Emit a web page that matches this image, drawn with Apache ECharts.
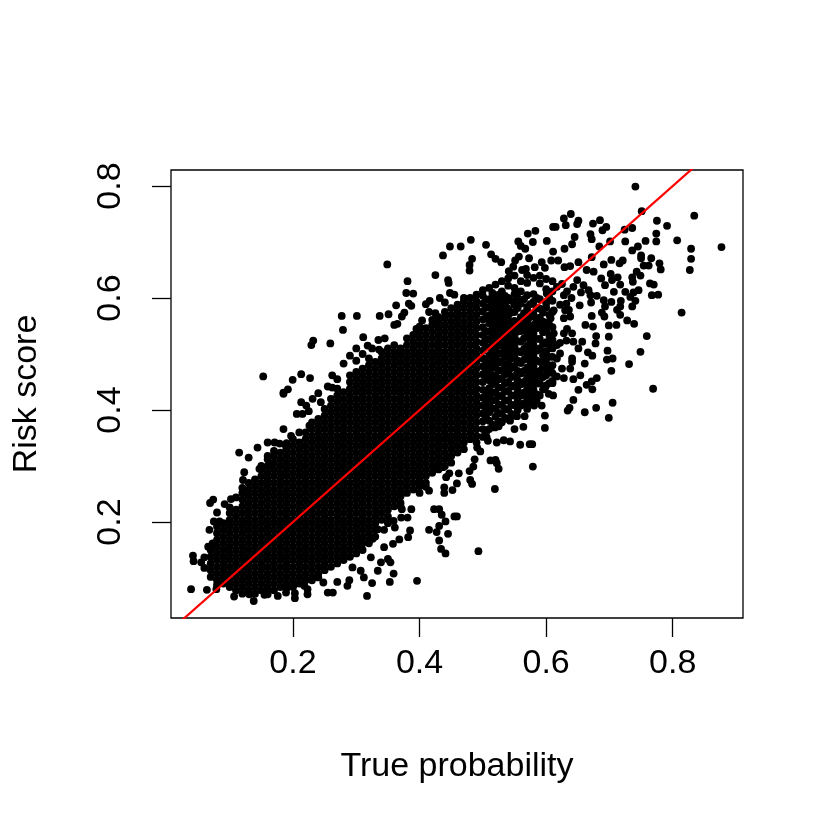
<!DOCTYPE html>
<html><head><meta charset="utf-8">
<style>html,body{margin:0;padding:0;background:#fff}#c{width:830px;height:830px}</style>
<script src="https://cdn.jsdelivr.net/npm/echarts@6/dist/echarts.min.js"></script>
</head><body><div id="c"></div>
<script>
const xTicks=[0.2,0.4,0.6,0.8];
const yTicks=[0.2,0.4,0.6,0.8];
const xTitle="True probability";
const yTitle="Risk score";
const refLineX=[0,1];
const refLineY=[0,1];
// individually readable points around the cloud
const upperLeftPoints=[[.153,.460],[.1995,.454],[.213,.464],[.227,.457],[.192,.437],[.185,.431],[.232,.524],[.229,.516],[.259,.519],[.279,.543],[.277,.568],[.301,.568],[.349,.660],[.337,.568],[.351,.571],[.311,.530],[.381,.630],[.379,.609],[.390,.608],[.363,.587],[.383,.590],[.387,.586],[.376,.574],[.372,.567],[.360,.552],[.365,.554],[.425,.641],[.437,.676],[.448,.692],[.445,.632],[.446,.627],[.448,.609],[.455,.606],[.416,.595],[.410,.589],[.432,.600],[.440,.592],[.300,.510],[.318,.515],[.325,.510],[.335,.525],[.345,.528],[.290,.497],[.300,.488],[.280,.483],[.262,.462],[.270,.455],[.262,.440],[.225,.398],[.240,.430],[.255,.442],[.310,.500],[.336,.508],[.395,.545],[.404,.560],[.415,.575],[.425,.573]];
const upperRightPoints=[[.741,.799],[.751,.755],[.834,.747],[.775,.738],[.791,.729],[.877,.691],[.807,.703],[.829,.688],[.829,.670],[.827,.650],[.814,.574],[.774,.715],[.774,.701],[.757,.702],[.745,.692],[.736,.685],[.725,.701],[.736,.725],[.724,.722],[.701,.701],[.684,.692],[.695,.727],[.689,.721],[.685,.739],[.674,.733],[.670,.714],[.672,.705],[.651,.738],[.639,.750],[.628,.742],[.631,.730],[.649,.732],[.645,.709],[.641,.696],[.629,.688],[.611,.727],[.615,.727],[.611,.683],[.601,.702],[.583,.720],[.571,.715],[.579,.700],[.556,.701],[.560,.693],[.567,.688],[.505,.695],[.481,.704],[.465,.692],[.513,.678],[.520,.670],[.529,.664],[.483,.670],[.479,.659],[.479,.649],[.573,.671],[.557,.674],[.551,.667],[.548,.656],[.541,.648],[.568,.652],[.562,.650],[.582,.655],[.593,.664],[.598,.654],[.608,.667],[.619,.667],[.629,.655],[.638,.657],[.651,.664],[.672,.673],[.691,.660],[.703,.668],[.716,.662],[.721,.667],[.750,.676],[.750,.671],[.766,.671],[.779,.662],[.781,.651],[.762,.658],[.754,.658],[.743,.647],[.749,.640],[.736,.637],[.737,.629],[.702,.643],[.713,.637],[.687,.635],[.675,.647],[.664,.650],[.704,.632],[.693,.623],[.717,.624],[.707,.611],[.764,.626],[.770,.624],[.746,.614],[.738,.610],[.767,.605],[.777,.606],[.725,.611],[.733,.602],[.741,.595],[.736,.585],[.718,.595],[.717,.585],[.703,.593],[.693,.585],[.680,.604],[.691,.596],[.670,.605],[.671,.592],[.653,.587],[.688,.574],[.692,.567],[.712,.579],[.717,.570],[.728,.560],[.739,.554],[.699,.551],[.711,.552],[.699,.531],[.759,.532],[.679,.532],[.678,.519],[.697,.506],[.749,.504],[.696,.490],[.705,.492],[.731,.482],[.703,.470],[.769,.438],[.661,.483],[.674,.549],[.662,.552],[.672,.568],[.657,.522],[.651,.510],[.666,.503],[.673,.497],[.680,.457],[.672,.451],[.664,.445],[.673,.437],[.651,.436],[.628,.457],[.643,.455],[.654,.462],[.638,.474],[.641,.492],[.607,.471],[.599,.489],[.628,.605],[.622,.588],[.636,.579],[.638,.567],[.628,.564],[.607,.564],[.596,.549],[.612,.537],[.628,.537],[.641,.537],[.643,.522],[.617,.516],[.622,.501],[.641,.486],[.617,.492],[.601,.471],[.617,.460],[.585,.460],[.643,.620],[.659,.623],[.667,.614],[.649,.632],[.617,.620],[.601,.608],[.625,.625],[.633,.612],[.640,.600],[.630,.578],[.612,.578],[.632,.524],[.625,.474],[.610,.448],[.598,.438],[.622,.520],[.633,.545],[.632,.590],[.655,.610]];
const lowerLeftPoints=[[.039,.080],[.064,.079],[.042,.140],[.043,.130],[.115,.324],[.130,.315],[.185,.366],[.185,.429],[.074,.240],[.069,.234],[.092,.232],[.080,.217],[.075,.201],[.084,.201],[.068,.186],[.066,.156],[.073,.162],[.060,.137],[.055,.128],[.060,.118],[.123,.289],[.121,.275],[.144,.333],[.160,.342],[.171,.342],[.179,.340],[.189,.335],[.197,.354],[.210,.360],[.226,.372],[.206,.393],[.215,.393],[.213,.414],[.221,.408],[.231,.420],[.244,.414],[.160,.318],[.147,.295],[.163,.301],[.102,.241],[.110,.244],[.079,.080],[.100,.089],[.107,.067],[.131,.071],[.138,.059],[.155,.070],[.160,.071],[.176,.068],[.189,.074],[.203,.073],[.203,.064],[.202,.089],[.223,.080],[.223,.071],[.218,.086],[.255,.074],[.263,.074],[.270,.093],[.248,.092],[.286,.086],[.289,.096],[.317,.068],[.325,.091],[.312,.101],[.334,.113],[.353,.093],[.359,.108],[.396,.095],[.350,.134],[.354,.128],[.339,.128],[.323,.137],[.344,.155],[.358,.161],[.368,.169],[.382,.173],[.385,.185],[.326,.170],[.334,.187],[.344,.186],[.361,.190],[.359,.202],[.371,.208],[.381,.208],[.372,.223],[.387,.223],[.415,.186],[.427,.182],[.431,.167],[.434,.152],[.441,.144],[.445,.179],[.431,.193],[.441,.201],[.423,.223],[.431,.223],[.435,.213],[.455,.210],[.415,.256],[.439,.262],[.439,.252],[.452,.257],[.442,.280],[.447,.287],[.429,.298],[.437,.298],[.444,.316],[.447,.351],[.402,.268],[.302,.173],[.307,.158],[.294,.119],[.307,.113]];
const lowerRightPoints=[[.705,.413],[.679,.404],[.699,.386],[.661,.396],[.643,.418],[.637,.404],[.634,.399],[.611,.426],[.604,.429],[.598,.390],[.598,.368],[.593,.408],[.581,.408],[.585,.417],[.566,.389],[.554,.389],[.564,.370],[.550,.366],[.543,.381],[.525,.371],[.519,.369],[.506,.351],[.508,.345],[.522,.342],[.533,.346],[.543,.344],[.559,.338],[.574,.339],[.578,.339],[.579,.299],[.512,.310],[.520,.311],[.525,.295],[.522,.305],[.496,.326],[.491,.333],[.487,.312],[.485,.299],[.479,.291],[.462,.287],[.459,.269],[.480,.275],[.483,.268],[.519,.259],[.459,.210],[.493,.148]];
// overplotted core of the cloud, estimated column by column
const coreX=[.07,.08,.09,.10,.11,.12,.13,.14,.15,.16,.17,.18,.19,.20,.21,.22,.23,.24,.25,.26,.27,.28,.29,.30,.31,.32,.33,.34,.35,.36,.37,.38,.39,.40,.41,.42,.43,.44,.45,.46,.47,.48,.49,.50,.51,.52,.53,.54,.55,.56,.57,.58,.59,.60,.61,.505,.515,.525,.535,.545,.555,.565,.575,.585,.595,.605];
const coreY=[
[.102,.114,.126,.138,.150],
[.088,.096,.108,.120,.132,.144,.156,.168,.180,.192],
[.090,.102,.114,.126,.138,.150,.162,.174,.186,.198],
[.084,.096,.108,.120,.132,.144,.156,.168,.180,.192,.204,.216,.226],
[.078,.090,.102,.114,.126,.138,.150,.162,.174,.186,.198,.210,.222],
[.072,.084,.096,.108,.120,.132,.144,.156,.168,.180,.192,.204,.216,.228,.240,.252,.261],
[.078,.090,.102,.114,.126,.138,.150,.162,.174,.186,.198,.210,.222,.234,.246,.258,.270],
[.072,.084,.096,.108,.120,.132,.144,.156,.168,.180,.192,.204,.216,.228,.240,.252,.264,.276],
[.078,.090,.102,.114,.126,.138,.150,.162,.174,.186,.198,.210,.222,.234,.246,.258,.270,.282,.294,.300],
[.076,.084,.096,.108,.120,.132,.144,.156,.168,.180,.192,.204,.216,.228,.240,.252,.264,.276,.288,.300,.312],
[.078,.090,.102,.114,.126,.138,.150,.162,.174,.186,.198,.210,.222,.234,.246,.258,.270,.282,.294,.306,.318,.327],
[.084,.096,.108,.120,.132,.144,.156,.168,.180,.192,.204,.216,.228,.240,.252,.264,.276,.288,.300,.312,.324],
[.082,.090,.102,.114,.126,.138,.150,.162,.174,.186,.198,.210,.222,.234,.246,.258,.270,.282,.294,.306,.318,.330,.341],
[.084,.096,.108,.120,.132,.144,.156,.168,.180,.192,.204,.216,.228,.240,.252,.264,.276,.288,.300,.312,.324,.336,.348],
[.090,.102,.114,.126,.138,.150,.162,.174,.186,.198,.210,.222,.234,.246,.258,.270,.282,.294,.306,.318,.330,.342],
[.096,.108,.120,.132,.144,.156,.168,.180,.192,.204,.216,.228,.240,.252,.264,.276,.288,.300,.312,.324,.336,.348,.360],
[.096,.102,.114,.126,.138,.150,.162,.174,.186,.198,.210,.222,.234,.246,.258,.270,.282,.294,.306,.318,.330,.342,.354,.366,.378],
[.101,.108,.120,.132,.144,.156,.168,.180,.192,.204,.216,.228,.240,.252,.264,.276,.288,.300,.312,.324,.336,.348,.360,.372,.384],
[.114,.126,.138,.150,.162,.174,.186,.198,.210,.222,.234,.246,.258,.270,.282,.294,.306,.318,.330,.342,.354,.366,.378,.390,.402],
[.120,.132,.144,.156,.168,.180,.192,.204,.216,.228,.240,.252,.264,.276,.288,.300,.312,.324,.336,.348,.360,.372,.384,.396,.408,.420],
[.126,.138,.150,.162,.174,.186,.198,.210,.222,.234,.246,.258,.270,.282,.294,.306,.318,.330,.342,.354,.366,.378,.390,.402,.414,.426,.438],
[.132,.144,.156,.168,.180,.192,.204,.216,.228,.240,.252,.264,.276,.288,.300,.312,.324,.336,.348,.360,.372,.384,.396,.408,.420,.432],
[.138,.150,.162,.174,.186,.198,.210,.222,.234,.246,.258,.270,.282,.294,.306,.318,.330,.342,.354,.366,.378,.390,.402,.414,.426,.438,.450,.462],
[.144,.156,.168,.180,.192,.204,.216,.228,.240,.252,.264,.276,.288,.300,.312,.324,.336,.348,.360,.372,.384,.396,.408,.420,.432,.444,.456,.468],
[.150,.162,.174,.186,.198,.210,.222,.234,.246,.258,.270,.282,.294,.306,.318,.330,.342,.354,.366,.378,.390,.402,.414,.426,.438,.450,.462,.474],
[.162,.168,.180,.192,.204,.216,.228,.240,.252,.264,.276,.288,.300,.312,.324,.336,.348,.360,.372,.384,.396,.408,.420,.432,.444,.456,.468,.480,.492],
[.174,.186,.198,.210,.222,.234,.246,.258,.270,.282,.294,.306,.318,.330,.342,.354,.366,.378,.390,.402,.414,.426,.438,.450,.462,.474,.486],
[.204,.216,.228,.240,.252,.264,.276,.288,.300,.312,.324,.336,.348,.360,.372,.384,.396,.408,.420,.432,.444,.456,.468,.480,.492,.504],
[.198,.210,.222,.234,.246,.258,.270,.282,.294,.306,.318,.330,.342,.354,.366,.378,.390,.402,.414,.426,.438,.450,.462,.474,.486,.498,.510],
[.228,.240,.252,.264,.276,.288,.300,.312,.324,.336,.348,.360,.372,.384,.396,.408,.420,.432,.444,.456,.468,.480,.492,.504,.516],
[.228,.234,.246,.258,.270,.282,.294,.306,.318,.330,.342,.354,.366,.378,.390,.402,.414,.426,.438,.450,.462,.474,.486,.498,.510],
[.252,.264,.276,.288,.300,.312,.324,.336,.348,.360,.372,.384,.396,.408,.420,.432,.444,.456,.468,.480,.492,.504,.516,.528],
[.258,.270,.282,.294,.306,.318,.330,.342,.354,.366,.378,.390,.402,.414,.426,.438,.450,.462,.474,.486,.498,.510,.522,.534],
[.252,.264,.276,.288,.300,.312,.324,.336,.348,.360,.372,.384,.396,.408,.420,.432,.444,.456,.468,.480,.492,.504,.516,.528,.540,.549],
[.263,.270,.282,.294,.306,.318,.330,.342,.354,.366,.378,.390,.402,.414,.426,.438,.450,.462,.474,.486,.498,.510,.522,.534,.546],
[.288,.300,.312,.324,.336,.348,.360,.372,.384,.396,.408,.420,.432,.444,.456,.468,.480,.492,.504,.516,.528,.540,.552,.561],
[.294,.306,.318,.330,.342,.354,.366,.378,.390,.402,.414,.426,.438,.450,.462,.474,.486,.498,.510,.522,.534,.546,.558,.566],
[.300,.312,.324,.336,.348,.360,.372,.384,.396,.408,.420,.432,.444,.456,.468,.480,.492,.504,.516,.528,.540,.552,.564,.575],
[.306,.318,.330,.342,.354,.366,.378,.390,.402,.414,.426,.438,.450,.462,.474,.486,.498,.510,.522,.534,.546,.558,.570,.582],
[.324,.336,.348,.360,.372,.384,.396,.408,.420,.432,.444,.456,.468,.480,.492,.504,.516,.528,.540,.552,.564,.576,.588],
[.330,.342,.354,.366,.378,.390,.402,.414,.426,.438,.450,.462,.474,.486,.498,.510,.522,.534,.546,.558,.570,.582,.594,.600],
[.348,.360,.372,.384,.396,.408,.420,.432,.444,.456,.468,.480,.492,.504,.516,.528,.540,.552,.564,.576,.588,.600],
[.342,.354,.366,.378,.390,.402,.414,.426,.438,.450,.462,.474,.486,.498,.510,.522,.534,.546,.558,.570,.582,.594,.606],
[.352,.366,.380,.394,.408,.422,.436,.450,.464,.478,.492,.506,.520,.534,.548,.562,.576,.590,.604,.614],
[.366,.381,.396,.410,.424,.439,.453,.468,.482,.497,.511,.526,.540,.555,.569,.584,.598,.618],
[.372,.388,.402,.418,.432,.448,.462,.478,.492,.508,.522,.538,.552,.568,.582,.598,.624],
[.378,.394,.409,.425,.440,.456,.471,.487,.502,.518,.533,.549,.564,.580,.595,.612,.630],
[.384,.401,.417,.434,.450,.467,.483,.500,.516,.533,.549,.569,.581,.600,.622,.635],
[.390,.409,.426,.444,.461,.479,.496,.514,.531,.549,.559,.575,.588,.607,.618,.640],
[.408,.426,.446,.465,.484,.503,.522,.541,.557,.566,.590,.612,.630],
[.402,.420,.438,.458,.476,.497,.515,.534,.543,.560,.578,.584,.605,.627,.641],
[.420,.436,.458,.478,.496,.516,.537,.552,.571,.593,.607,.636],
[.426,.448,.470,.486,.510,.527,.550,.565,.581,.598,.626,.640],
[.444,.462,.484,.505,.521,.541,.556,.583,.590,.616,.634],
[.452,.466,.480,.495,.510,.525,.548,.575,.595,.612,.630],
[.360,.387,.401,.415,.429,.457,.471,.485,.513,.527,.541,.565,.583,.597],
[.374,.403,.417,.431,.446,.460,.475,.489,.504,.518,.533,.547,.562,.576,.591,.609],
[.380,.395,.410,.425,.440,.455,.470,.485,.500,.515,.530,.545,.560,.575,.590,.606],
[.386,.402,.417,.433,.448,.464,.479,.495,.510,.526,.541,.557,.572,.588,.604],
[.393,.409,.426,.442,.459,.475,.492,.508,.525,.541,.558,.574,.595],
[.400,.418,.435,.453,.470,.488,.505,.523,.540,.552,.582,.600],
[.412,.431,.450,.470,.490,.509,.528,.550,.573,.598],
[.412,.429,.448,.467,.487,.506,.525,.548,.566,.589],
[.428,.447,.468,.488,.506,.527,.546,.562,.582,.600],
[.437,.459,.478,.498,.518,.539,.558,.574],
[.448,.473,.495,.516,.533,.552,.570,.601]
];
const dotPoints=[];
coreX.forEach((x,i)=>coreY[i].forEach(y=>dotPoints.push([x,y])));
upperLeftPoints.concat(upperRightPoints,lowerLeftPoints,lowerRightPoints).forEach(p=>dotPoints.push(p));
const font="Liberation Sans";
const fs=34;
const chart=echarts.init(document.getElementById('c'),null,{renderer:'canvas'});
const fmt=v=>Number(v).toFixed(1);
chart.setOption({
 animation:false,
 backgroundColor:'#fff',
 grid:{left:171,top:170,width:572,height:448,show:true,borderColor:'#000',borderWidth:1.3,backgroundColor:'transparent',containLabel:false,outerBoundsMode:'none'},
 xAxis:{type:'value',min:0.0073,max:0.911,splitLine:{show:false},axisLine:{show:false},
  axisTick:{show:true,length:19,customValues:xTicks,lineStyle:{color:'#000',width:1.3}},
  axisLabel:{show:true,customValues:xTicks,formatter:fmt,color:'#000',fontFamily:font,fontSize:fs,margin:29,hideOverlap:false},
  name:xTitle,nameLocation:'middle',nameGap:132,nameTextStyle:{color:'#000',fontFamily:font,fontSize:fs}},
 yAxis:{type:'value',min:0.0286,max:0.8286,splitLine:{show:false},axisLine:{show:false},
  axisTick:{show:true,length:19,customValues:yTicks,lineStyle:{color:'#000',width:1.3}},
  axisLabel:{show:true,customValues:yTicks,formatter:fmt,rotate:90,color:'#000',fontFamily:font,fontSize:fs,margin:60,align:'center',verticalAlign:'middle',hideOverlap:false},
  name:yTitle,nameLocation:'middle',nameGap:127,nameRotate:90,nameTextStyle:{color:'#000',fontFamily:font,fontSize:fs}},
 series:[
  {type:'scatter',data:dotPoints,symbol:'circle',symbolSize:7.8,itemStyle:{color:'#000',opacity:1},silent:true,clip:true,z:2},
  {type:'line',data:refLineX.map((x,i)=>[x,refLineY[i]]),showSymbol:false,lineStyle:{color:'#f00',width:2.2},silent:true,clip:true,z:3}
 ]
});
</script></body></html>
